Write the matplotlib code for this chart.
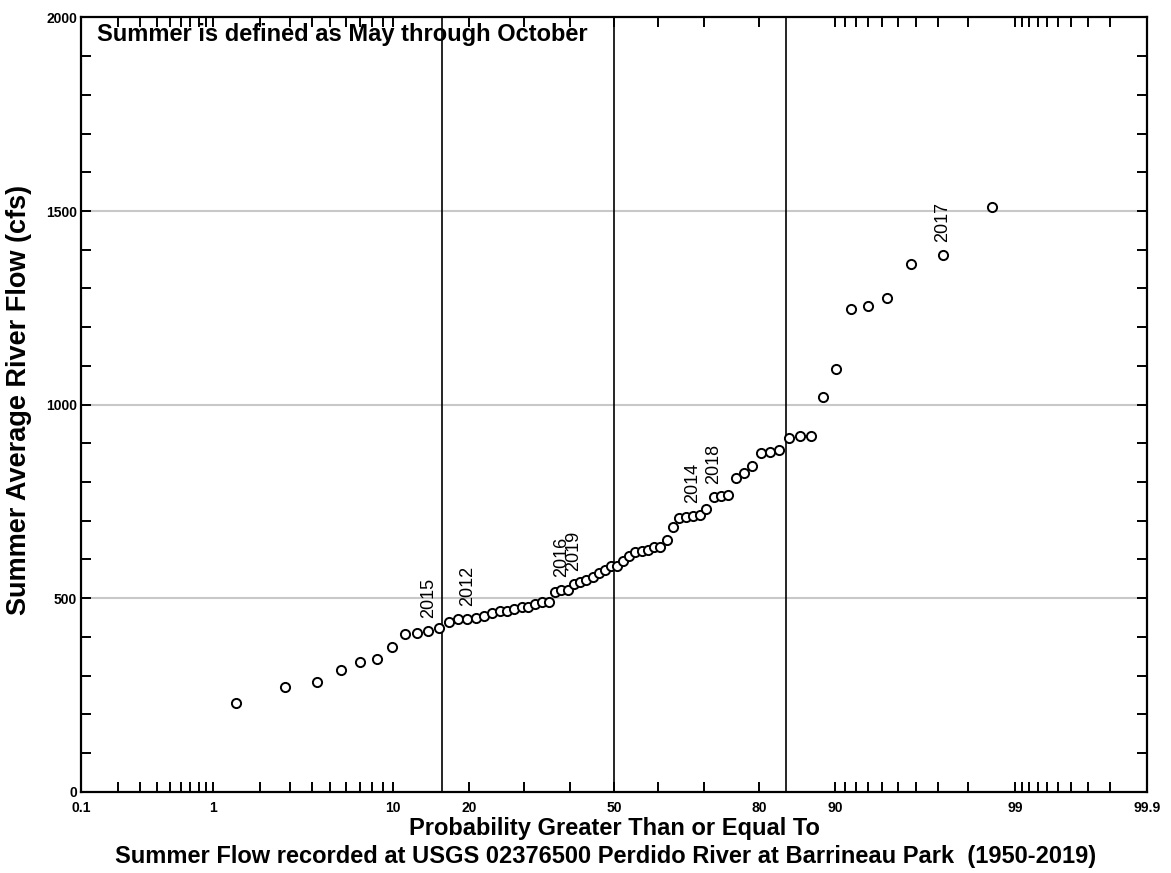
import statistics

import matplotlib
matplotlib.use("Agg")
import matplotlib.pyplot as plt
import numpy as np
from matplotlib.ticker import FixedLocator, FixedFormatter, NullFormatter

plt.rcParams["font.family"] = ["Liberation Sans", "DejaVu Sans"]

# summer (May-Oct) mean flow in cfs, sorted low to high, 70 seasons 1950-2019
flow_cfs = [
    229, 271, 284, 314, 335, 342, 373, 407, 411, 414,
    423, 438, 445, 446, 450, 454, 461, 467, 468, 471,
    476, 478, 485, 489, 490, 516, 520, 522, 536, 542,
    547, 555, 566, 573, 582, 583, 595, 608, 620, 622,
    624, 631, 632, 651, 683, 706, 710, 711, 714, 730,
    761, 765, 766, 810, 823, 842, 875, 878, 884, 913,
    918, 919, 1020, 1091, 1246, 1254, 1276, 1362, 1386, 1511,
]

# recent years flagged on the plot, by rank in the sorted list (1-based)
flag_years = ["2015", "2012", "2016", "2019", "2014", "2018", "2017"]
flag_ranks = [10, 14, 27, 29, 48, 51, 69]

prob_major = [0.1, 1, 10, 20, 50, 80, 90, 99, 99.9]
prob_major_labels = ["0.1", "1", "10", "20", "50", "80", "90", "99", "99.9"]
prob_minor = [0.2, 0.3, 0.4, 0.5, 0.6, 0.7, 0.8, 0.9,
              2, 3, 4, 5, 6, 7, 8, 9, 30, 40, 60, 70,
              91, 92, 93, 94, 95, 96, 97, 98,
              99.1, 99.2, 99.3, 99.4, 99.5, 99.6, 99.7, 99.8]

flow_major = [0, 500, 1000, 1500, 2000]
flow_minor = list(range(0, 2001, 100))
flow_grid = [500, 1000, 1500]

_nd = statistics.NormalDist()
_ppf = np.vectorize(_nd.inv_cdf, otypes=[float])
_cdf = np.vectorize(_nd.cdf, otypes=[float])


def prob_to_z(p):
    p = np.clip(np.asarray(p, dtype=float) / 100.0, 1e-9, 1 - 1e-9)
    return _ppf(p)


def z_to_prob(z):
    return _cdf(np.asarray(z, dtype=float)) * 100.0


n = len(flow_cfs)
rank = np.arange(1, n + 1)
prob = rank / (n + 1) * 100.0  # Weibull plotting position

fig = plt.figure(figsize=(11.71, 8.73), dpi=100)
ax = fig.add_axes([81.3 / 1171, 81.3 / 873, 1065.4 / 1171, 774.2 / 873])
ax.set_xscale("function", functions=(prob_to_z, z_to_prob))
ax.set_xlim(0.1, 99.9)
ax.set_ylim(0, 2000)

for v in flow_grid:
    ax.axhline(v, color="#c8c8c8", lw=1.5, zorder=1)
# mean and +/- one standard deviation
for p in (_nd.cdf(-1) * 100, 50, _nd.cdf(1) * 100):
    ax.axvline(p, color="black", lw=1.2, zorder=2)

ax.plot(prob, flow_cfs, "o", ms=6.6, mfc="white", mec="black", mew=1.4,
        zorder=3)

for yr, r in zip(flag_years, flag_ranks):
    ax.annotate(yr, (prob[r - 1], flow_cfs[r - 1]), xytext=(0, 9.5),
                textcoords="offset points", rotation=90, ha="center",
                va="bottom", fontsize=13, zorder=4)

ax.xaxis.set_major_locator(FixedLocator(prob_major))
ax.xaxis.set_major_formatter(FixedFormatter(prob_major_labels))
ax.xaxis.set_minor_locator(FixedLocator(prob_minor))
ax.xaxis.set_minor_formatter(NullFormatter())
ax.yaxis.set_major_locator(FixedLocator(flow_major))
ax.yaxis.set_minor_locator(FixedLocator(flow_minor))
ax.yaxis.set_minor_formatter(NullFormatter())

ax.tick_params(axis="both", which="both", direction="in", length=7.5,
               width=1.4, top=True, right=True, labelsize=10)
ax.tick_params(axis="x", pad=7)
ax.tick_params(axis="y", pad=3)
for lab in ax.get_xticklabels() + ax.get_yticklabels():
    lab.set_fontweight("bold")
for s in ax.spines.values():
    s.set_linewidth(1.6)

ax.text(0.015, 0.978, "Summer is defined as May through October",
        transform=ax.transAxes, ha="left", va="center", fontsize=17,
        fontweight="bold")

fig.text(19 / 1171, 1 - 400 / 873, "Summer Average River Flow (cfs)",
         rotation=90, ha="center", va="center", fontsize=19.5,
         fontweight="bold")
fig.text(614 / 1171, 1 - 829 / 873, "Probability Greater Than or Equal To",
         ha="center", va="center", fontsize=17, fontweight="bold")
fig.text(606 / 1171, 1 - 857 / 873,
         "Summer Flow recorded at USGS 02376500 Perdido River at Barrineau Park  (1950-2019)",
         ha="center", va="center", fontsize=17, fontweight="bold")

fig.savefig("out.png", dpi=100)
